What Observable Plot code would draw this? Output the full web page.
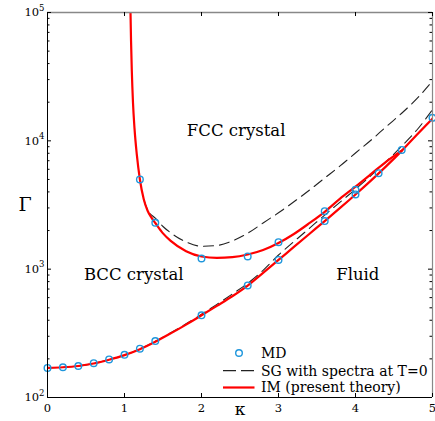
<!DOCTYPE html>
<html>
<head>
<meta charset="utf-8">
<script src="https://cdn.jsdelivr.net/npm/d3@7"></script>
<script src="https://cdn.jsdelivr.net/npm/@observablehq/plot@0.6"></script>
<style>
  html, body { margin: 0; padding: 0; background: white; }
  #wrap { position: relative; width: 435px; height: 421px; overflow: hidden; }
  #legend { position: absolute; left: 0; top: 0; pointer-events: none; }
</style>
</head>
<body>
<div id="wrap"></div>
<script>
// ---- data ----
const kappaIMLower = [0,0.2,0.4,0.6,0.8,1.0,1.2,1.4,1.6,1.8,2.0,2.2,2.4,2.6,2.8,3.0,3.2,3.4,3.6,3.8,4.0,4.2,4.4,4.6,4.8,5.0];
const gammaIMLower = [170,172,176,184,197,214,238,272,316,370,437,518,615,745,935,1180,1490,1880,2370,3000,3820,4900,6350,8350,11200,14900];

const kappaIMUpper = [1.078,1.085,1.095,1.11,1.13,1.16,1.2,1.25,1.3,1.35,1.4,1.5,1.6,1.8,2.0,2.2,2.4,2.6,2.8,3.0,3.2,3.4,3.6,3.8,4.0,4.2,4.4,4.6];
const gammaIMUpper = [100000,60000,35000,20000,12500,7800,5000,3500,2850,2520,2290,1900,1660,1380,1255,1225,1240,1300,1410,1600,1880,2280,2800,3550,4400,5500,6900,8400];

const kappaSGLower = [0,0.2,0.4,0.6,0.8,1.0,1.2,1.4,1.6,1.8,2.0,2.2,2.4,2.6,2.8,3.0,3.2,3.4,3.6,3.8,4.0,4.2,4.4,4.6,4.8,5.0];
const gammaSGLower = [170,172,176,184,197,214,239,274,319,375,445,532,640,775,980,1290,1640,2080,2640,3330,4200,5350,6900,9100,12200,17500];

const kappaSGUpper = [1.25,1.3,1.4,1.5,1.6,1.8,2.0,2.2,2.4,2.6,2.8,3.0,3.2,3.4,3.6,3.8,4.0,4.2,4.4,4.6,4.8,5.0];
const gammaSGUpper = [3500,2900,2500,2150,1920,1630,1510,1530,1660,1905,2290,2750,3350,4120,5130,6380,8040,10100,12900,16400,21400,29200];

const kappaMD = [0,0.2,0.4,0.6,0.8,1.0,1.2,1.4,2.0,2.6,3.0,3.6,4.0,1.2,1.4,2.0,2.6,3.0,3.6,4.0,4.3,4.6,5.0];
const gammaMD = [170,172,176,185,198,215,240,275,437,747,1180,2370,3820,5000,2296,1211,1256,1622,2833,4159,5600,8500,15100];

const xTicks = [0,1,2,3,4,5];
const yMajor = [100,1000,10000,100000];
const yMinor = [200,300,400,500,600,700,800,900,2000,3000,4000,5000,6000,7000,8000,9000,20000,30000,40000,50000,60000,70000,80000,90000];

const regionLabels = ["FCC crystal","BCC crystal","Fluid"];
const regionKappa = [2.45,1.12,4.03];
const regionGamma = [12000,910,910];

const legendLabels = ["MD","SG with spectra at T=0","IM (present theory)"];

// ---- build tables ----
const zip = (ks, gs) => ks.map((k, i) => ({k, g: gs[i]}));
const imLower = zip(kappaIMLower, gammaIMLower);
const imUpper = zip(kappaIMUpper, gammaIMUpper);
const sgLower = zip(kappaSGLower, gammaSGLower);
const sgUpper = zip(kappaSGUpper, gammaSGUpper);
const md = zip(kappaMD, gammaMD);
const regions = regionLabels.map((t, i) => ({t, k: regionKappa[i], g: regionGamma[i]}));

const W = 435, H = 421, mL = 47, mR = 3, mT = 12, mB = 24;
const pw = W - mL - mR, ph = H - mT - mB;
const FONT = "DejaVu Serif";
const RED = "#ff0000", BLUE = "#1e96dc", DASH = "#222";

const chart = Plot.plot({
  width: W, height: H,
  marginLeft: mL, marginRight: mR, marginTop: mT, marginBottom: mB,
  style: {fontFamily: FONT, fontSize: "11.5px", background: "white", color: "black"},
  x: {domain: [0, 5]},
  y: {type: "log", domain: [100, 100000]},
  marks: [
    Plot.line(sgLower, {x: "k", y: "g", stroke: DASH, strokeWidth: 1.1, strokeDasharray: "10,6", curve: "monotone-x", clip: true}),
    Plot.line(sgUpper, {x: "k", y: "g", stroke: DASH, strokeWidth: 1.1, strokeDasharray: "10,6", curve: "monotone-x", clip: true}),
    Plot.line(imLower, {x: "k", y: "g", stroke: RED, strokeWidth: 2.2, curve: "monotone-x", clip: true}),
    Plot.line(imUpper, {x: "k", y: "g", stroke: RED, strokeWidth: 2.2, curve: "monotone-x", clip: true}),
    Plot.dot(md, {x: "k", y: "g", r: 3.3, stroke: BLUE, strokeWidth: 1.4, fill: "none"}),
    Plot.text(regions, {x: "k", y: "g", text: "t", fontSize: 16.5, fill: "black"}),
    // frame
    Plot.ruleY([100000], {stroke: "#888", strokeWidth: 1.6}),
    Plot.ruleX([5], {stroke: "#888", strokeWidth: 1.2}),
    Plot.ruleX([0], {stroke: "black", strokeWidth: 1}),
    Plot.ruleY([100], {stroke: "black", strokeWidth: 1}),
    // inward ticks
    Plot.tickX(xTicks, {x: d => d, insetTop: ph - 4, stroke: "black"}),
    Plot.tickX(xTicks, {x: d => d, insetBottom: ph - 4, stroke: "black"}),
    Plot.tickY(yMajor, {y: d => d, insetRight: pw - 4, stroke: "black"}),
    Plot.tickY(yMajor, {y: d => d, insetLeft: pw - 4, stroke: "black"}),
    Plot.tickY(yMinor, {y: d => d, insetRight: pw - 2.5, stroke: "black"}),
    Plot.tickY(yMinor, {y: d => d, insetLeft: pw - 2.5, stroke: "black"}),
    Plot.axisX(xTicks, {tickSize: 0, tickPadding: 6, label: null, fontSize: 11.5}),
    Plot.axisY(yMajor, {tickSize: 0, tickPadding: 3, label: null, fontSize: 11.5,
      tickFormat: d => `10^${Math.round(Math.log10(d))}`}),
    Plot.text(["Γ"], {frameAnchor: "left", dx: -29, text: d => d, fontSize: 19}),
    Plot.text(["κ"], {frameAnchor: "bottom", dy: 17, lineAnchor: "bottom", text: d => d, fontSize: 17})
  ]
});

// superscript exponents on the y tick labels
chart.querySelectorAll('[aria-label="y-axis tick label"] text').forEach(t => {
  const s = t.textContent;
  if (!s.includes("^")) return;
  const [b, e] = s.split("^");
  t.textContent = "";
  const ns = "http://www.w3.org/2000/svg";
  const t1 = document.createElementNS(ns, "tspan");
  t1.textContent = b;
  const t2 = document.createElementNS(ns, "tspan");
  t2.textContent = e;
  t2.setAttribute("font-size", "8.5");
  t2.setAttribute("dy", "-5.5");
  t.appendChild(t1); t.appendChild(t2);
});

const wrap = document.getElementById("wrap");
wrap.appendChild(chart);

// legend overlay
const ns = "http://www.w3.org/2000/svg";
const lg = document.createElementNS(ns, "svg");
lg.setAttribute("id", "legend");
lg.setAttribute("width", W);
lg.setAttribute("height", H);
const rowsY = [353, 370.7, 387.5];
const mk = (tag, attrs) => { const el = document.createElementNS(ns, tag); for (const k in attrs) el.setAttribute(k, attrs[k]); lg.appendChild(el); return el; };
mk("circle", {cx: 239, cy: rowsY[0], r: 3.3, fill: "none", stroke: BLUE, "stroke-width": 1.4});
mk("line", {x1: 223, x2: 254.5, y1: rowsY[1], y2: rowsY[1], stroke: DASH, "stroke-width": 1.3, "stroke-dasharray": "13,5"});
mk("line", {x1: 223, x2: 254.5, y1: rowsY[2], y2: rowsY[2], stroke: RED, "stroke-width": 2.2});
legendLabels.forEach((s, i) => {
  const t = mk("text", {x: 261, y: rowsY[i], dy: "0.35em", "font-family": FONT, "font-size": 14, fill: "black"});
  t.textContent = s;
});
wrap.appendChild(lg);
</script>
</body>
</html>
